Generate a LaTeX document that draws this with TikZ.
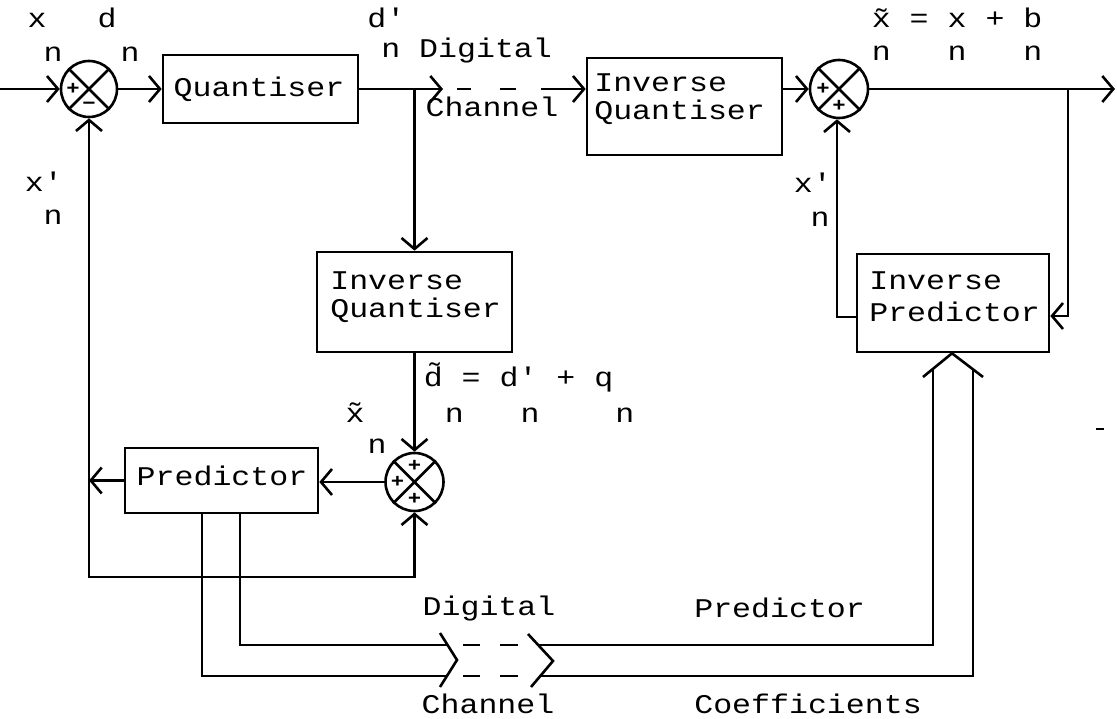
\documentclass[tikz,border=0pt]{standalone}
\usepackage{fontspec}
\newfontfamily\mono[FakeStretch=1.17]{Liberation Mono}
\usetikzlibrary{arrows.meta}
\begin{document}
\begin{tikzpicture}[x=1pt,y=-1pt,
  line width=2.6pt,
  >={Straight Barb[length=11pt,width=26pt]},
  box/.style={draw, rectangle, inner sep=0pt},
  sum/.style={draw, circle, inner sep=0pt, minimum size=56pt},
  lbl/.style={font=\mono\fontsize{27}{30}\selectfont, inner sep=0pt},
  sgn/.style={font=\mono\fontsize{19}{21}\selectfont\bfseries, inner sep=0pt}
]
\useasboundingbox (0,0) rectangle (1117,719);

% ---- nodes ----
\node[sum] (S1) at (89,89) {};
\node[box, minimum width=195pt, minimum height=68pt] (Q) at (260.5,89) {};
\node[box, minimum width=195pt, minimum height=97pt] (IQ1) at (684.5,106.5) {};
\node[sum, minimum size=58pt] (S2) at (839,89) {};
\node[box, minimum width=195pt, minimum height=100pt] (IQ2) at (414.5,302) {};
\node[sum, minimum size=58pt] (S3) at (414.5,482) {};
\node[box, minimum width=193pt, minimum height=65pt] (P) at (221.5,480.5) {};
\node[box, minimum width=192pt, minimum height=98pt] (IP) at (953,303) {};

% crosses and signs
\foreach \s in {S1,S2,S3}{
  \draw (\s.north west) -- (\s.south east) (\s.north east) -- (\s.south west);
}
\node[sgn] at ([shift={(-16,0)}]S1.center) {+};
\node[sgn] at ([shift={(0,17)}]S1.center) {−};
\node[sgn] at ([shift={(-16,0)}]S2.center) {+};
\node[sgn] at ([shift={(0,17)}]S2.center) {+};
\node[sgn] at ([shift={(0,-16)}]S3.center) {+};
\node[sgn] at ([shift={(-17,0)}]S3.center) {+};
\node[sgn] at ([shift={(0,17)}]S3.center) {+};

% box texts
\node[lbl, anchor=base] (tQ) at (259,97) {Quantiser};
\node[lbl, anchor=base west] (tIQ1a) at (593,92) {Inverse};
\node[lbl, anchor=base west] (tIQ1b) at (593,120) {Quantiser};
\node[lbl, anchor=base west] (tIQ2a) at (329,290) {Inverse};
\node[lbl, anchor=base west] (tIQ2b) at (329,318) {Quantiser};
\node[lbl, anchor=base west] (tIPa) at (868,290) {Inverse};
\node[lbl, anchor=base west] (tIPb) at (868,322) {Predictor};
\node[lbl, anchor=base] (tP) at (222,485) {Predictor};

% ---- coordinates ----
\coordinate (in) at (0,89);
\coordinate (c1) at (443,89);
\coordinate (c2) at (541,89);
\coordinate (b1) at (414.5,89);
\coordinate (out) at (1115,89);
\coordinate (b2) at (1068,89);
\coordinate (r316) at (1068,316);
\coordinate (l317) at (837,317);
\coordinate (fbR) at (414.5,577);
\coordinate (fbL) at (89,577);

% ---- top path ----
\draw[->] (in) -- (S1.west);
\draw[->] (S1.east) -- (Q.west);
\draw[->] (Q.east) -- (c1);
\draw (457,89) -- (471,89) (500,89) -- (516,89);
\draw[->] (c2) -- (c2 -| IQ1.west);
\draw[->] (b1) -- (b1 |- IQ2.north);
\draw[->] (S2.west -| IQ1.east) -- (S2.west);
\draw[->] (S2.east) -- (out);
\draw[->] (b2) -- (r316) -- (r316 -| IP.east);
\draw[->] (l317 -| IP.west) -- (l317) -- (l317 |- S2.south);

% ---- encoder loop ----
\draw[->] (IQ2.south) -- (S3.north);
\draw[->] (S3.west) -- (S3.west -| P.east);
\draw[->] (P.west) -- (P.west -| fbL);
\draw[<->] (S3.south) -- (fbR) -- (fbL) -- (S1.south);

% ---- predictor coefficients double line ----
\coordinate (u1) at (240,645);
\coordinate (v1) at (202,676);
\draw (P.south -| u1) -- (u1) -- (447,645);
\draw (P.south -| v1) -- (v1) -- (447,676);
\draw (440,633) -- (457,660) -- (440,687);
\draw (463,645) -- (480,645) (500,645) -- (518,645);
\draw (463,676) -- (480,676) (500,676) -- (518,676);
\draw (528,634) -- (553,661) -- (531,687);
\draw (538,645) -- (933,645) -- (933,369);
\draw (540,676) -- (973,676) -- (973,369);
\draw (923,377) -- (IP.south -| 952,0) -- (983,377);

% stray mark
\draw[line width=2pt] (1096,429) -- (1104,429);

% ---- labels ----
\node[lbl, anchor=base] at (37,28) {x};
\node[lbl, anchor=base] at (53,62) {n};
\node[lbl, anchor=base] at (107,28) {d};
\node[lbl, anchor=base] at (130,62) {n};
\node[lbl, anchor=base west] at (366,28) {d'};
\node[lbl, anchor=base west] at (380,58) {n Digital};
\node[lbl, anchor=base] at (492,117) {Channel};
\node[lbl, anchor=base west] at (870.5,28) {x̃ = x + b};
\node[lbl, anchor=base west] at (870.5,61) {n\ \ \ n\ \ \ n};
\node[lbl, anchor=base west] at (23.5,192) {x'};
\node[lbl, anchor=base] at (53,225) {n};
\node[lbl, anchor=base west] at (792.5,193) {x'};
\node[lbl, anchor=base] at (820,227) {n};
\node[lbl, anchor=base west] at (422.5,387) {d̃ = d' + q};
\node[lbl, anchor=base west] at (443.5,422) {n\ \ \ n\ \ \ \ n};
\node[lbl, anchor=base] at (355,422) {x̃};
\node[lbl, anchor=base] at (377,453) {n};
\node[lbl, anchor=base] at (489,615) {Digital};
\node[lbl, anchor=base] at (488,713) {Channel};
\node[lbl, anchor=base west] at (693,617) {Predictor};
\node[lbl, anchor=base west] at (693,713) {Coefficients};
\end{tikzpicture}
\end{document}
